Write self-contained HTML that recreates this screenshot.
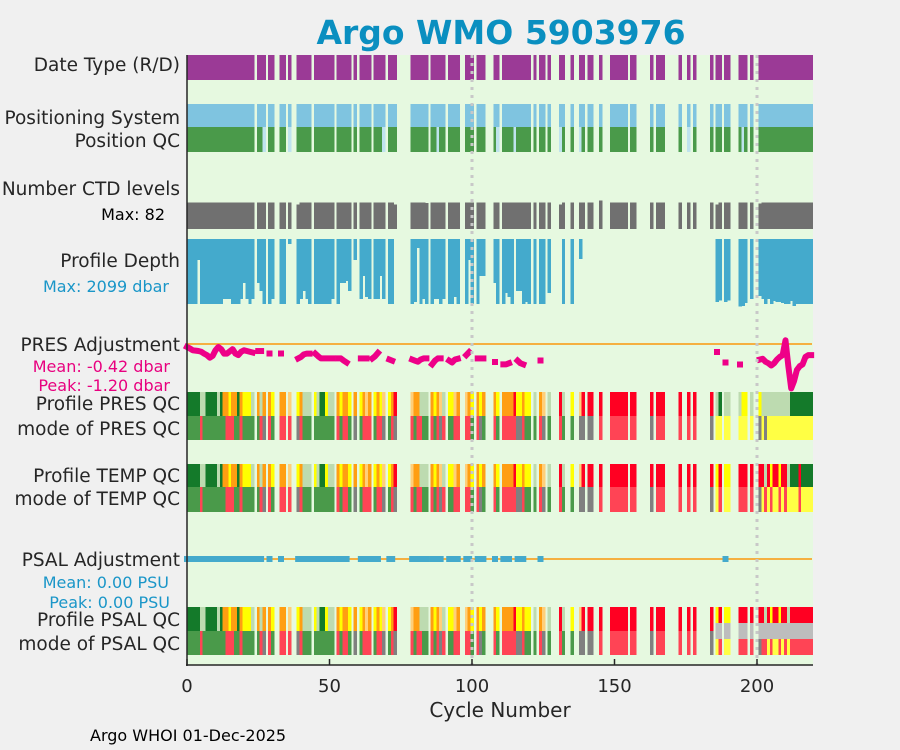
<!DOCTYPE html>
<html><head><meta charset="utf-8">
<style>
body{margin:0;background:#f0f0f0;}
svg{display:block;font-family:"DejaVu Sans","Liberation Sans",sans-serif;}
#marks rect{shape-rendering:crispEdges;}
</style></head>
<body>
<svg id="chart" width="900" height="750" viewBox="0 0 900 750">
<rect x="0" y="0" width="900" height="750" fill="#f0f0f0"/>
<rect x="187" y="55" width="626" height="610" fill="#e6f9e0"/>
<g id="marks"></g>
<line x1="472" y1="55" x2="472" y2="665" stroke="#c8c8c8" stroke-width="3" stroke-dasharray="3,5"/>
<line x1="757" y1="55" x2="757" y2="665" stroke="#c8c8c8" stroke-width="3" stroke-dasharray="3,5"/>
<line x1="187" y1="55" x2="187" y2="666" stroke="#262626" stroke-width="1.5"/>
<line x1="186" y1="665" x2="813" y2="665" stroke="#262626" stroke-width="1.5"/>
<g id="xticks"></g>
<text x="501" y="44" text-anchor="middle" font-size="33" font-weight="bold" fill="#0a8fc0">Argo WMO 5903976</text>
<text x="500" y="717" text-anchor="middle" font-size="20" fill="#262626">Cycle Number</text>
<text x="90" y="741" font-size="16" fill="#000">Argo WHOI 01-Dec-2025</text>
<g font-size="18.5" fill="#262626" text-anchor="end">
<text x="180" y="71">Date Type (R/D)</text>
<text x="180" y="124">Positioning System</text>
<text x="180" y="147">Position QC</text>
<text x="180" y="195">Number CTD levels</text>
<text x="180" y="267">Profile Depth</text>
<text x="180" y="351">PRES Adjustment</text>
<text x="180" y="410">Profile PRES QC</text>
<text x="180" y="435">mode of PRES QC</text>
<text x="180" y="482">Profile TEMP QC</text>
<text x="180" y="505">mode of TEMP QC</text>
<text x="180" y="566">PSAL Adjustment</text>
<text x="180" y="626">Profile PSAL QC</text>
<text x="180" y="650">mode of PSAL QC</text>
</g>
<g font-size="16" text-anchor="end">
<text x="165" y="220" fill="#000">Max: 82</text>
<text x="169" y="292" fill="#1a96c8">Max: 2099 dbar</text>
<text x="170" y="372" fill="#e8007f">Mean: -0.42 dbar</text>
<text x="170" y="391" fill="#e8007f">Peak: -1.20 dbar</text>
<text x="169" y="588" fill="#1a96c8">Mean: 0.00 PSU</text>
<text x="170" y="608" fill="#1a96c8">Peak: 0.00 PSU</text>
</g>
</svg>
<script>
// presence per cycle (x present, . absent), by decade
const present = ("xxxxxxxxxx"+"xxxxxxxxxx"+"xxxx.xxx.x"+"x..xx.x..x"+"xxxx.xxxxx"+"xx.xxxxx.x"+".xxxx.xxxx"+".xxx.....x"+"xxxxx.xxxx"+"x.xxxx..xx"+
 "x.xxx...xx"+".xxxxxxxxx"+"x.x.xx.x.."+".xx..x..xx"+".xx..x...x"+"xxxxx.xx.."+"...x.xxx.."+"...x..x.x."+"....x.xx.x"+"x...xxx.x."+".xxxxxxxxx"+"xxxxxxxxxx").split('');
const posQCbad = [27,36,69,88,109,115,131,138,176,195];
const ctdLevels = present.map(p=>p==='x'?80:null);
const ctdLow = [[38,78],[39,74],[73,74],[84,79],[145,86],[131,74],[186,74],[201,78]];
const depth = [
 2015,2015,2015,2015,651,2015,2015,2015,2015,2015,
 2015,2015,2015,1860,1860,1860,2015,2015,2015,1860,
 1364,1860,2015,1860,0,1364,1612,2015,0,2015,
 1860,0,0,2015,2015,0,155,0,0,2015,
 1860,1612,1860,2015,0,2015,2015,2015,2015,2015,
 2015,1860,0,2015,1364,1364,1302,1612,0,651,
 0,1860,1147,1797,1860,0,1860,1860,1147,1860,
 0,2015,2015,0,0,0,0,0,0,2015,
 1952,279,2015,1860,2015,0,2015,1860,1860,2015,
 1860,0,2015,2015,1797,2015,0,0,2015,651,
 2015,0,2015,1147,1147,0,0,0,1364,2015,
 0,2015,1673,1797,2015,0,1612,1612,2015,1952,
 2015,0,2015,0,2015,2015,0,1673,0,0,
 0,0,2015,0,0,2015,0,0,620,0,
 0,0,0,0,0,0,0,0,0,0, 0,0,0,0,0,0,0,0,0,0, 0,0,0,0,0,0,0,0,0,0, 0,0,0,0,0,0,0,0,0,0,
 0,0,0,0,0,0,1952,1900,0,1952,
 1900,0,0,0,2097,2077,1983,0,1860,0,
 0,1767,1860,2015,1860,2015,1920,1952,1952,1983,
 2015,2015,1920,2077,2015,2015,2015,2015,2015,2015];
const N=null;
const presAdj = [
 -0.08,-0.12,-0.17,-0.18,-0.19,-0.21,-0.26,-0.30,-0.37,-0.32,
 -0.17,-0.08,-0.14,-0.26,-0.26,-0.20,-0.14,-0.26,-0.30,-0.21,
 -0.17,-0.19,-0.21,-0.23,N,-0.19,-0.19,N,N,-0.26,
 N,N,N,-0.26,N,N,N,N,N,-0.39,
 -0.35,-0.28,-0.26,-0.26,N,-0.26,-0.33,-0.39,-0.39,-0.39,
 -0.39,-0.39,N,-0.39,-0.39,-0.45,-0.5,N,N,N,
 N,-0.39,-0.39,-0.39,N,-0.39,-0.33,-0.24,N,N,
 N,-0.42,-0.45,N,N,N,N,N,N,-0.42,
 -0.45,-0.48,-0.42,-0.39,-0.39,N,-0.55,-0.45,-0.39,-0.39,
 N,N,-0.45,-0.5,-0.42,-0.4,N,N,-0.3,-0.22,
 N,N,-0.39,-0.39,-0.39,N,N,N,-0.48,N,
 N,-0.55,-0.55,-0.52,N,N,-0.45,-0.52,-0.55,N,
 N,N,N,N,-0.45,N,N,N,N,N,
 N,N,N,N,N,N,N,N,N,N, N,N,N,N,N,N,N,N,N,N, N,N,N,N,N,N,N,N,N,N, N,N,N,N,N,N,N,N,N,N, N,N,N,N,N,N,N,N,N,N,
 N,N,N,N,N,N,-0.22,N,N,-0.5,
 N,N,N,N,-0.55,N,N,N,N,N,
 N,-0.42,-0.4,-0.48,-0.52,-0.58,-0.52,-0.42,-0.35,-0.3,
 0.1,-0.6,-1.2,-1.0,-0.7,-0.6,-0.55,-0.35,-0.3,-0.3];
const psalAdj = presAdj.map((v,i)=> (v!==null && (i<130 || i===189)) ? 0 : null);
const presQC = ("AAAAABBAAA"+"ABACCECCAC"+"EEEB.CBC.C"+"E..CC.D..E"+"CBBB.EBAAE"+"BB.CECCE.C"+".ECDC.ECED"+".ECF.....D"+"CCBBB.CECD"+"B.EEDC..DC"+
 "E.CEC...CE"+".CCCCFEECE"+"E.B.CD.B.."+".FB..E..DF"+".FF..F...F"+"FFFFF.FF.."+"...F.FFF.."+"...F..F.F."+"....F.BA.B"+"B...BEE.B."+".EBBBBBBBB"+"BBAAAAAAAA").split('');
const presMode = ("1111141111"+"1111444114"+"1111.149.4"+"1..44.4..9"+"4111.11111"+"11.41441.9"+".1444.1449"+".149.....4"+"14411.4149"+"4.1144..44"+
 "1.491...41"+".444449941"+"1.1.49.1.."+".41..1..99"+".99..4...4"+"44444.44.."+"...9.444.."+"...4..4.4."+"....9.33.3"+"3...333.3."+".939333333"+"3333333333").split('');
const tempQC = presQC.slice(0,180).concat(("....F.EF.E"+"E...FFF.F."+".FFBFEFFEF"+"FBAAAFAAAA").split(''));
const tempMode = presMode.slice(0,180).concat(("....9.34.3"+"3...444.4."+".934343343"+"4333343333").split(''));
const psalQC = presQC.slice(0,180).concat(("....F.EF.E"+"E...FFF.F."+".FFBFEFFEF"+"FBFFFFFFFF").split(''));
const psalMode = presMode.slice(0,180).concat(("....9.34.3"+"3...444.4."+".944343343"+"4344444444").split(''));
const psalGrayBand = [186,187,189,190,194,195,196,198,201,202,203,204,205,206,207,208,209,210,211,212,213,214,215,216,217,218,219];
const xTicks = [0,50,100,150,200];

const NS="http://www.w3.org/2000/svg";
const g=document.getElementById('marks');
const X0=187, PX=2.85, XMAX=813;
function xs(c){return X0+c*PX;}
const qcCol={A:'#147a2a',B:'#bddbb0',C:'#ff9e12',D:'#ffcf7a',E:'#ffff00',F:'#ff0022','1':'#4a9a4a','4':'#ff4455','9':'#808080','3':'#ffff44'};
function bar(c,y,h,fill,name){
  const x1=Math.max(X0,xs(c-0.5)), x2=Math.min(XMAX,xs(c+0.5));
  const r=document.createElementNS(NS,'rect');
  r.setAttribute('x',x1.toFixed(2));r.setAttribute('y',y.toFixed(2));
  r.setAttribute('width',(x2-x1+0.6).toFixed(2));r.setAttribute('height',h.toFixed(2));
  r.setAttribute('fill',fill);
  
  
  g.appendChild(r);return r;
}
for(let c=0;c<present.length;c++){
  if(present[c]!=='x')continue;
  bar(c,55,25,'#9b3a96','date-type-bar');
  bar(c,104,23,'#7fc4e0','positioning-system-bar');
  bar(c,127,25,posQCbad.includes(c)?'#bfe3ee':'#4a9a4a','position-qc-bar');
  let lv=ctdLevels[c]; ctdLow.forEach(p=>{if(p[0]===c)lv=p[1];});
  const hCtd=27*lv/82;
  bar(c,229-hCtd,hCtd,'#707070','ctd-levels-bar');
  if(depth[c]>0){ bar(c,239,67.7*depth[c]/2099,'#44aacc','profile-depth-bar'); }
  if(presQC[c]!=='.') bar(c,392,24,qcCol[presQC[c]],'pres-qc-cell');
  if(presMode[c]!=='.') bar(c,416,24,qcCol[presMode[c]],'pres-qc-mode-cell');
  if(tempQC[c]!=='.') bar(c,464,23,qcCol[tempQC[c]],'temp-qc-cell');
  if(tempMode[c]!=='.') bar(c,487,25,qcCol[tempMode[c]],'temp-qc-mode-cell');
  if(psalQC[c]!=='.') bar(c,607,24,qcCol[psalQC[c]],'psal-qc-cell');
  if(psalMode[c]!=='.') bar(c,631,24,qcCol[psalMode[c]],'psal-qc-mode-cell');
  if(psalGrayBand.includes(c)) bar(c,623,16,'#bdbdbd','psal-qc-gray-band');
}
function hline(y,name){
  const l=document.createElementNS(NS,'line');
  l.setAttribute('x1',X0);l.setAttribute('x2',XMAX-1);l.setAttribute('y1',y);l.setAttribute('y2',y);
  l.setAttribute('stroke','#f5b041');l.setAttribute('stroke-width','2');
  
  
  g.appendChild(l);
}
hline(344,'pres-adjustment-zero-line');
hline(559,'psal-adjustment-zero-line');
function yPres(v){return 344 - v*37;}
function ySal(v){return 559 - v*37;}
function series(arr,yf,color,w,name){
  let run=[];
  const flush=()=>{
    if(run.length===0)return;
    if(run.length===1){
      const c=run[0];
      const r=document.createElementNS(NS,'rect');
      r.setAttribute('x',(xs(c)-w/2).toFixed(2));r.setAttribute('y',(yf(arr[c])-w/2).toFixed(2));
      r.setAttribute('width',w);r.setAttribute('height',w);r.setAttribute('fill',color);
      
      
      g.appendChild(r);
    } else {
      const p=document.createElementNS(NS,'polyline');
      p.setAttribute('points',run.map(c=>xs(c).toFixed(2)+','+yf(arr[c]).toFixed(2)).join(' '));
      p.setAttribute('fill','none');p.setAttribute('stroke',color);p.setAttribute('stroke-width',w);
      p.setAttribute('stroke-linejoin','round');p.setAttribute('stroke-linecap','square');
      
      
      g.appendChild(p);
    }
    run=[];
  };
  for(let c=0;c<arr.length;c++){ if(arr[c]===null){flush();} else run.push(c); }
  flush();
}
series(presAdj,yPres,'#ee0088',6,'pres-adjustment');
series(psalAdj,ySal,'#44aacc',6,'psal-adjustment');
const xt=document.getElementById('xticks');
xTicks.forEach(v=>{
  const l=document.createElementNS(NS,'line');
  l.setAttribute('x1',xs(v));l.setAttribute('x2',xs(v));l.setAttribute('y1',659);l.setAttribute('y2',665);
  l.setAttribute('stroke','#262626');l.setAttribute('stroke-width','1.5');
  
  
  xt.appendChild(l);
  const t=document.createElementNS(NS,'text');
  t.setAttribute('x',xs(v));t.setAttribute('y',692);t.setAttribute('text-anchor','middle');
  t.setAttribute('font-size','18');t.setAttribute('fill','#262626');
  t.textContent=v;
  
  
  xt.appendChild(t);
});
</script>
</body></html>
